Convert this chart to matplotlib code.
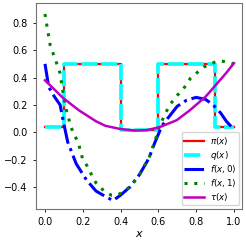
import matplotlib
matplotlib.use("Agg")
import matplotlib.pyplot as plt

# step functions pi(x), q(x)
x_step = [0.0, 0.1, 0.1, 0.4, 0.4, 0.6, 0.6, 0.9, 0.9, 1.0]
pi_vals = [0.035, 0.035, 0.5, 0.5, 0.015, 0.015, 0.5, 0.5, 0.035, 0.035]
q_vals = [0.035, 0.035, 0.5, 0.5, 0.015, 0.015, 0.5, 0.5, 0.035, 0.035]

# f(x, 0)
x_f0 = [0.0, 0.02, 0.05, 0.08, 0.1, 0.12, 0.165, 0.22, 0.27, 0.32, 0.36, 0.4,
        0.45, 0.5, 0.55, 0.58, 0.62, 0.7, 0.75, 0.8, 0.85, 0.89, 0.93, 0.96, 1.0]
f0_vals = [0.5, 0.33, 0.26, 0.2, 0.06, -0.07, -0.23, -0.35, -0.43, -0.47, -0.5, -0.46,
           -0.4, -0.31, -0.19, -0.08, 0.05, 0.19, 0.235, 0.255, 0.24, 0.2, 0.14, 0.08, 0.02]

# f(x, 1)
x_f1 = [0.0, 0.01, 0.027, 0.048, 0.069, 0.08, 0.096, 0.11, 0.128, 0.149, 0.175, 0.2,
        0.23, 0.255, 0.28, 0.314, 0.35, 0.38, 0.4, 0.45, 0.5, 0.55, 0.59, 0.606, 0.633,
        0.66, 0.7, 0.734, 0.77, 0.8, 0.84, 0.87, 0.9, 0.936, 0.968, 1.0]
f1_vals = [0.865, 0.78, 0.64, 0.557, 0.476, 0.43, 0.286, 0.176, 0.088, -0.007, -0.07, -0.2,
           -0.26, -0.34, -0.39, -0.43, -0.46, -0.46, -0.447, -0.4, -0.31, -0.19, -0.03, 0.044, 0.125,
           0.2, 0.27, 0.32, 0.395, 0.43, 0.476, 0.495, 0.513, 0.52, 0.513, 0.5]

# tau(x)
x_tau = [0.0, 0.096, 0.18, 0.27, 0.32, 0.394, 0.468, 0.537, 0.606, 0.697, 0.766, 0.85, 0.957, 1.0]
tau_vals = [0.38, 0.25, 0.16, 0.08, 0.047, 0.025, 0.012, 0.015, 0.037, 0.088, 0.16, 0.26, 0.43, 0.505]

fig = plt.figure(figsize=(2.46, 2.41), dpi=100)
ax = fig.add_axes([0.146, 0.133, 0.838, 0.855])

ax.plot(x_step, pi_vals, color='red', lw=1.6, label=r'$\pi(x)$')
ax.plot(x_step, q_vals, color='cyan', lw=2.6, ls=(0, (4.5, 1.0)), label=r'$q(x)$')
ax.plot(x_f0, f0_vals, color='blue', lw=2.2, ls='-.', label=r'$f(x,0)$')
ax.plot(x_f1, f1_vals, color='green', lw=2.2, ls=(0, (1, 2.2)), label=r'$f(x,1)$')
ax.plot(x_tau, tau_vals, color='m', lw=1.8, label=r'$\tau(x)$')

ax.set_xlim(-0.048, 1.043)
ax.set_ylim(-0.561, 0.946)
ax.set_xticks([0.0, 0.2, 0.4, 0.6, 0.8, 1.0])
ax.set_yticks([-0.4, -0.2, 0.0, 0.2, 0.4, 0.6, 0.8])
ax.tick_params(labelsize=7, length=2.5, width=0.6)
for s in ax.spines.values():
    s.set_color('0.45')
    s.set_linewidth(0.8)
ax.set_xlabel(r'$x$', fontsize=8, labelpad=1)
ax.legend(loc='lower right', fontsize=6.3, borderaxespad=0.4, labelspacing=0.2,
          handlelength=2.3, handletextpad=0.6, borderpad=0.3)

fig.savefig('out.png', dpi=100)
